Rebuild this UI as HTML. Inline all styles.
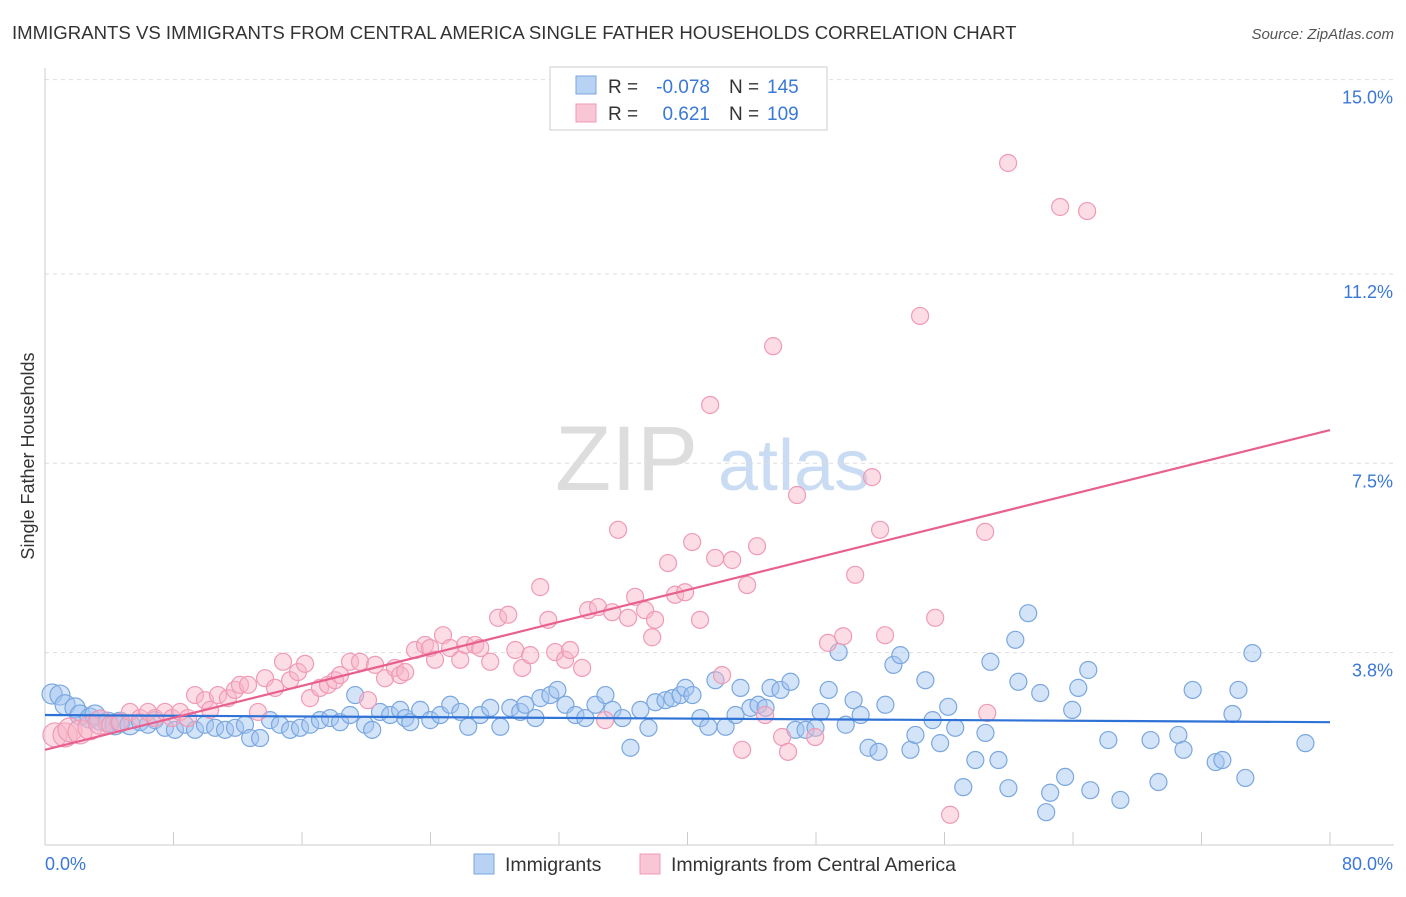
<!DOCTYPE html>
<html><head><meta charset="utf-8"><style>
body{margin:0;background:#fff;font-family:"Liberation Sans",sans-serif;}
svg text{font-family:"Liberation Sans",sans-serif;}
</style></head><body>
<svg id="c" width="1406" height="892" xmlns="http://www.w3.org/2000/svg">
<text x="12" y="39" font-size="18.6" fill="#333">IMMIGRANTS VS IMMIGRANTS FROM CENTRAL AMERICA SINGLE FATHER HOUSEHOLDS CORRELATION CHART</text>
<text x="1394" y="39" font-size="15" fill="#555" font-style="italic" text-anchor="end">Source: ZipAtlas.com</text>
<text x="0" y="0" transform="translate(34,456) rotate(-90)" font-size="18" fill="#333" text-anchor="middle">Single Father Households</text>
<text x="555" y="490" font-size="92" fill="#ddd" font-family="Liberation Serif">ZIP</text>
<text x="718" y="490" font-size="72" fill="#c9dcf3">atlas</text>
<g id="grid"></g><g id="pts"></g><g id="trend"></g>
<g>
<rect x="550" y="67" width="277" height="63" fill="#fff" stroke="#ccc"/>
<rect x="576" y="76" width="20" height="18" fill="#b8d2f3" stroke="#7aa7e0"/>
<rect x="576" y="104" width="20" height="18" fill="#f9c6d5" stroke="#f09ab5"/>
<text x="608" y="93" font-size="19" fill="#333">R =</text>
<text x="710" y="93" font-size="19" fill="#3a78d8" text-anchor="end">-0.078</text>
<text x="729" y="93" font-size="19" fill="#333">N =</text>
<text x="767" y="93" font-size="19" fill="#3a78d8">145</text>
<text x="608" y="120" font-size="19" fill="#333">R =</text>
<text x="710" y="120" font-size="19" fill="#3a78d8" text-anchor="end">0.621</text>
<text x="729" y="120" font-size="19" fill="#333">N =</text>
<text x="767" y="120" font-size="19" fill="#3a78d8">109</text>
</g>
<g>
<rect x="474" y="854" width="20" height="20" fill="#b8d2f3" stroke="#7aa7e0"/>
<text x="505" y="871" font-size="19.5" fill="#333">Immigrants</text>
<rect x="640" y="854" width="20" height="20" fill="#f9c6d5" stroke="#f09ab5"/>
<text x="671" y="871" font-size="19.5" fill="#333">Immigrants from Central America</text>
</g>
</svg>
<script>
const xTicks=[0,8,16,24,32,40,48,56,64,72,80];
const yTicks=[3.8,7.5,11.2,15.0];
const yTickLabels=["3.8%","7.5%","11.2%","15.0%"];
const blueX=[0.44,0.93,1.25,1.87,2.18,2.80,3.11,3.43,3.92,4.36,4.67,5.29,5.92,6.41,6.85,7.47,8.09,8.72,9.34,9.96,10.59,11.21,11.83,12.45,12.77,13.39,14.01,14.63,15.26,15.88,16.51,17.12,17.75,18.37,18.99,19.31,19.93,20.37,20.86,21.49,22.11,22.43,22.74,23.36,23.99,24.61,25.23,25.86,26.35,27.10,27.72,28.35,28.97,29.59,29.90,30.53,30.84,31.46,31.90,32.40,33.02,33.64,34.27,34.89,35.33,35.95,36.45,37.07,37.57,38.00,38.63,39.06,39.56,39.87,40.31,40.80,41.30,41.74,42.37,42.99,43.30,43.92,44.42,44.86,45.17,45.79,46.41,46.72,47.35,47.97,48.29,48.79,49.41,49.85,50.34,50.78,51.27,51.89,52.32,52.82,53.25,53.88,54.19,54.81,55.26,55.73,56.23,56.67,57.17,57.92,58.55,58.86,59.36,59.98,60.41,60.60,61.21,61.96,62.33,62.58,63.51,63.95,64.33,64.95,65.08,66.20,66.95,68.83,69.32,70.56,70.88,71.45,72.88,73.30,73.93,74.30,74.73,75.17,78.47];
const blueY=[2.99,2.97,2.78,2.72,2.58,2.52,2.58,2.48,2.44,2.39,2.44,2.39,2.44,2.39,2.48,2.33,2.29,2.39,2.29,2.39,2.33,2.29,2.33,2.39,2.13,2.13,2.48,2.39,2.29,2.33,2.39,2.48,2.52,2.44,2.58,2.97,2.39,2.29,2.64,2.58,2.68,2.52,2.44,2.68,2.48,2.58,2.78,2.64,2.35,2.58,2.72,2.35,2.72,2.64,2.78,2.52,2.91,2.97,3.07,2.78,2.58,2.52,2.78,2.97,2.68,2.52,1.94,2.68,2.33,2.83,2.87,2.91,2.97,3.11,2.97,2.52,2.35,3.26,2.35,2.58,3.11,2.72,2.78,2.72,3.11,3.07,3.23,2.29,2.29,2.33,2.64,3.07,3.81,2.39,2.87,2.58,1.94,1.86,2.78,3.56,3.75,1.90,2.19,3.26,2.48,2.03,2.74,2.33,1.17,1.70,2.23,3.62,1.70,1.15,4.05,3.23,4.57,3.01,0.68,1.06,1.37,2.68,3.11,3.46,1.11,2.09,0.92,2.09,1.27,2.19,1.90,3.07,1.66,1.70,2.60,3.07,1.35,3.79,2.03];
const pinkX=[0.62,1.25,1.56,2.18,2.80,3.43,4.05,4.67,5.29,5.92,6.41,6.85,7.47,7.91,8.41,8.90,9.34,9.96,10.28,10.77,11.39,11.83,12.14,12.64,13.26,13.70,14.32,14.82,15.26,15.75,16.19,16.50,17.12,17.62,18.06,18.37,18.99,19.61,20.11,20.55,21.17,21.79,22.11,22.42,23.04,23.66,23.97,24.28,24.78,25.22,25.85,26.16,26.78,27.10,27.72,28.21,28.84,29.28,29.71,30.21,30.83,31.33,31.76,32.38,32.69,33.44,33.81,34.43,34.87,35.31,35.68,36.30,36.74,37.36,37.80,37.98,38.79,39.23,39.85,40.29,40.78,41.41,41.72,42.15,42.78,43.40,43.71,44.33,44.83,45.33,45.89,46.26,46.82,47.95,48.75,49.69,50.44,51.49,51.99,52.30,54.48,55.42,56.35,58.53,58.66,59.96,63.20,64.88];
const pinkY=[2.19,2.19,2.29,2.25,2.33,2.44,2.39,2.44,2.64,2.52,2.64,2.52,2.64,2.52,2.64,2.52,2.97,2.87,2.68,2.97,2.91,3.07,3.17,3.17,2.64,3.30,3.11,3.62,3.26,3.42,3.58,2.91,3.11,3.17,3.26,3.36,3.62,3.62,2.87,3.56,3.30,3.50,3.36,3.42,3.85,3.95,3.89,3.66,4.14,3.89,3.66,3.95,3.95,3.89,3.62,4.48,4.54,3.85,3.50,3.75,5.08,4.44,3.81,3.66,3.85,3.50,4.63,4.69,2.48,4.59,6.20,4.48,4.89,4.63,4.10,4.44,5.55,4.93,4.98,5.96,4.44,8.64,5.65,3.36,5.61,1.90,5.12,5.88,2.58,9.79,2.15,1.86,6.88,2.15,3.99,4.12,5.32,7.23,6.20,4.14,10.38,4.48,0.63,6.16,2.62,13.37,12.51,12.43];
const blueTrendX=[0,80], blueTrendY=[2.58,2.44];
const pinkTrendX=[0,80], pinkTrendY=[1.90,8.15];

const X=v=>45+v*(1285/80);
const Y=v=>847-v*51.16;
const NS="http://www.w3.org/2000/svg";
function mk(tag,attrs,parent){const e=document.createElementNS(NS,tag);for(const k in attrs)e.setAttribute(k,attrs[k]);parent.appendChild(e);return e;}
const grid=document.getElementById('grid');
yTicks.forEach((t,i)=>{
  const l=mk('line',{x1:45,x2:1394,y1:Y(t),y2:Y(t),stroke:'#ddd','stroke-dasharray':'4,4'},grid);
  
  
  const tx=mk('text',{x:1393,y:Y(t)+24,'font-size':18,fill:'#3a78d8','text-anchor':'end'},grid);
  tx.textContent=yTickLabels[i];
  
  
});
const ax=mk('line',{x1:45,x2:1394,y1:845,y2:845,stroke:'#ccc'},grid);


const ay=mk('line',{x1:45,x2:45,y1:68,y2:845,stroke:'#ccc'},grid);


xTicks.forEach(t=>{
  const l=mk('line',{x1:X(t),x2:X(t),y1:832,y2:845,stroke:'#ccc'},grid);
  
  
});
const xl0=mk('text',{x:45,y:870,'font-size':18,fill:'#3a78d8'},grid);xl0.textContent='0.0%';


const xl1=mk('text',{x:1393,y:870,'font-size':18,fill:'#3a78d8','text-anchor':'end'},grid);xl1.textContent='80.0%';


const pts=document.getElementById('pts');
blueX.forEach((x,i)=>{
  const c=mk('circle',{cx:X(x),cy:Y(blueY[i]),r:i<12?10:8.5,fill:'rgba(160,196,240,0.45)',stroke:'#7aa7e0','stroke-width':1.2},pts);
  
  
});
pinkX.forEach((x,i)=>{
  const c=mk('circle',{cx:X(x),cy:Y(pinkY[i]),r:i<6?12:8.5,fill:'rgba(248,180,200,0.45)',stroke:'#f09ab5','stroke-width':1.2},pts);
  
  
});
const tr=document.getElementById('trend');
const bt=mk('line',{x1:X(blueTrendX[0]),y1:Y(blueTrendY[0]),x2:X(blueTrendX[1]),y2:Y(blueTrendY[1]),stroke:'#2f72d6','stroke-width':2.2},tr);


const pt=mk('line',{x1:X(pinkTrendX[0]),y1:Y(pinkTrendY[0]),x2:X(pinkTrendX[1]),y2:Y(pinkTrendY[1]),stroke:'#e8608f','stroke-width':2.2},tr);


</script>
</body></html>
